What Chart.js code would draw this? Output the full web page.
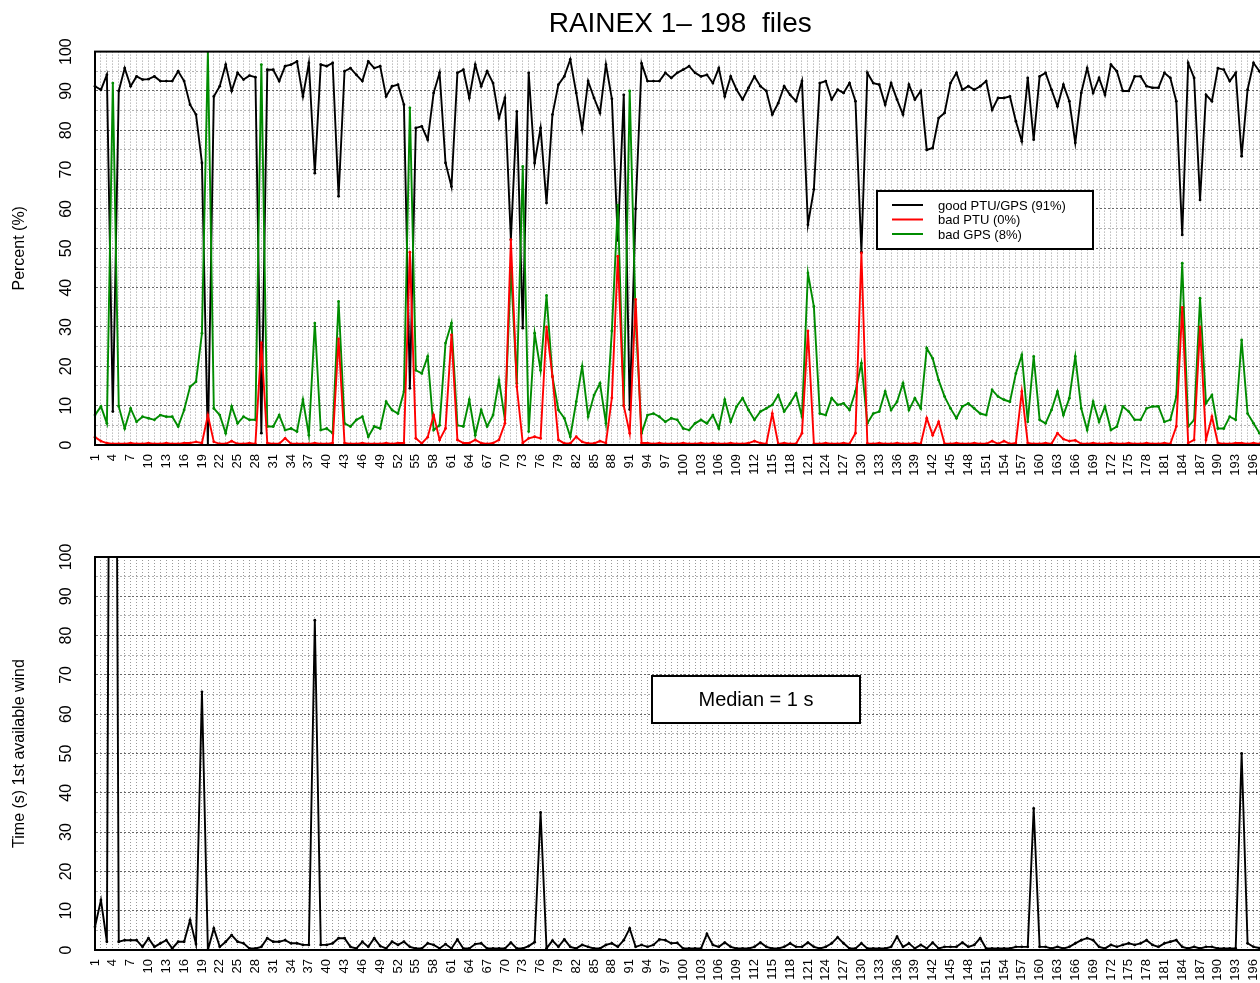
<!DOCTYPE html>
<html>
<head>
<meta charset="utf-8">
<title>RAINEX 1-198 files</title>
<script src="https://cdn.jsdelivr.net/npm/chart.js@4.4.1/dist/chart.umd.min.js"></script>
<style>
  html, body { margin: 0; padding: 0; background: #fff; overflow: hidden; }
  #topWrap { position: absolute; left: 0; top: 0; }
  #bottomWrap { position: absolute; left: 0; top: 500px; }
</style>
</head>
<body>
<div id="topWrap"><canvas id="topChart" width="1290" height="500"></canvas></div>
<div id="bottomWrap"><canvas id="bottomChart" width="1290" height="483"></canvas></div>
<script>
// file numbers 1..198
var fileNumbers = [];
for (var i = 1; i <= 198; i++) fileNumbers.push(String(i));

var goodPTUGPS = [
  91.2, 90.3, 94.1, 8.5, 90, 95.8, 91.2, 93.7, 92.9, 93,
  93.7, 92.5, 92.5, 92.5, 95, 92.5, 86.5, 84, 71.7, 0,
  88.6, 91.2, 96.7, 90, 94.6, 92.9, 93.9, 93.5, 3, 95.4,
  95.4, 92.5, 96.3, 96.7, 97.5, 88.6, 97.1, 69.1, 96.7, 96.3,
  97.1, 63.2, 95, 95.8, 94.1, 92.5, 97.5, 95.8, 96.3, 88.6,
  91.2, 91.6, 86.5, 14.4, 80.6, 81, 77.6, 89.5, 94.6, 71.7,
  65.7, 94.6, 95.4, 88.2, 96.7, 91.2, 95, 92, 83.1, 88.2,
  52.2, 84.8, 29.7, 94.6, 71.7, 80.6, 61.5, 84, 91.6, 93.7,
  98, 89.5, 80.2, 92.5, 88.2, 84.4, 96.7, 88, 52, 89,
  9, 60, 97, 92.5, 92.5, 92.5, 94.6, 93.3, 94.6, 95.4,
  96.3, 94.6, 93.7, 94.1, 92, 95.8, 88.6, 93.7, 90.3, 87.8,
  90.8, 93.7, 91.2, 90, 84, 86.9, 91.2, 89, 87.4, 92.5,
  56, 65, 92, 92.5, 87.8, 90.3, 89.5, 92, 87.4, 49,
  94.6, 92, 91.6, 86.5, 92, 87.8, 84, 91.6, 87.8, 90,
  75, 75.5, 83.1, 84.4, 92, 94.6, 90.3, 91.2, 90.3, 91.2,
  92.5, 85.2, 88.2, 88.2, 88.6, 82.3, 77.2, 93.3, 77.6, 93.7,
  94.6, 90.3, 86.1, 91.6, 87.4, 76.8, 89.5, 95.8, 89.5, 93.3,
  89, 96.7, 95, 90, 90, 93.7, 93.7, 91.2, 90.8, 90.8,
  94.6, 93.3, 87.4, 53.4, 97.1, 93.3, 62.3, 89, 87.4, 95.8,
  95.4, 92.5, 94.6, 73.4, 90.3, 97.1, 95, 93
];

var badPTU = [
  2, 1, 0.5, 0.3, 0.3, 0.3, 0.5, 0.3, 0.3, 0.5,
  0.3, 0.3, 0.5, 0.3, 0.3, 0.5, 0.5, 0.8, 0.5, 7.6,
  0.8, 0.3, 0.3, 1, 0.3, 0.3, 0.5, 0.3, 26, 0.5,
  0.3, 0.3, 1.7, 0.3, 0.3, 0.3, 0.3, 0.5, 0.3, 0.3,
  0.5, 27, 0.5, 0.3, 0.3, 0.5, 0.3, 0.3, 0.3, 0.5,
  0.3, 0.5, 0.5, 49, 1.7, 0.4, 2, 7.6, 1.3, 4.2,
  28, 1.3, 0.5, 0.5, 1.3, 0.5, 0.3, 0.5, 1.3, 5.5,
  52.2, 14.8, 0.5, 1.7, 2.1, 1.7, 30, 17.4, 1.3, 0.4,
  0.4, 2.1, 0.8, 0.4, 0.4, 1, 0.5, 12, 48, 10,
  3, 37, 0.5, 0.5, 0.3, 0.5, 0.3, 0.3, 0.3, 0.5,
  0.3, 0.3, 0.5, 0.3, 0.5, 0.3, 0.3, 0.5, 0.3, 0.3,
  0.5, 1, 0.5, 0.3, 8, 0.3, 0.5, 0.3, 0.3, 3,
  29, 0.3, 0.3, 0.5, 0.3, 0.3, 0.5, 0.3, 3, 48.8,
  0.4, 0.3, 0.5, 0.3, 0.3, 0.5, 0.3, 0.3, 0.5, 0.3,
  6.8, 2.5, 5.9, 0.3, 0.3, 0.5, 0.3, 0.3, 0.5, 0.3,
  0.3, 1, 0.3, 1, 0.3, 0.5, 13.6, 0.5, 0.3, 0.3,
  0.5, 0.3, 3, 1.5, 1, 1.2, 0.3, 0.3, 0.5, 0.3,
  0.3, 0.5, 0.3, 0.3, 0.5, 0.3, 0.3, 0.5, 0.3, 0.3,
  0.5, 0.3, 4.7, 35, 0.5, 1.3, 30, 1.3, 7.2, 0.5,
  0.3, 0.3, 0.5, 0.5, 0.3, 0.5, 0.3, 0.3
];

var badGPS = [
  7.6, 9.8, 5.5, 92, 9.8, 4.2, 9.3, 5.9, 7.2, 6.8,
  6.4, 7.6, 7.2, 7.2, 4.7, 8.9, 14.8, 16.1, 28.4, 100,
  9.3, 7.6, 3, 9.8, 5.5, 7.2, 6.4, 6.4, 96.7, 4.7,
  4.7, 7.6, 3.8, 4.2, 3.4, 11.5, 2.5, 31, 3.8, 4.2,
  3, 36.5, 5.5, 4.7, 6.4, 7.2, 2.1, 4.7, 4.2, 11,
  8.9, 8, 13.6, 85.7, 19, 18.2, 22.5, 3.8, 5, 25.9,
  31, 5, 4.7, 11.5, 2.5, 8.9, 4.7, 7.6, 16.5, 6.4,
  45, 15.7, 70.8, 3.4, 28.4, 19, 38, 17.4, 8.9, 6.8,
  2.1, 11, 20, 7.2, 12.7, 15.7, 5.5, 29, 61, 10,
  90, 32, 3, 7.6, 8, 7.2, 5.9, 6.8, 6.4, 4.2,
  3.8, 5.5, 6.4, 5.5, 7.6, 4.2, 11.5, 5.9, 9.8, 11.9,
  8.9, 6.4, 8.5, 9.3, 10.2, 12.7, 8.5, 10.6, 13.1, 7.2,
  43.7, 35.2, 8, 7.6, 11.9, 10.2, 10.6, 8.9, 13.6, 20.8,
  5.5, 8, 8.5, 13.6, 8.9, 11, 15.7, 8.9, 11.9, 9.3,
  24.6, 22, 16.5, 12.3, 9.3, 6.8, 9.8, 10.6, 9.3, 8,
  7.6, 14, 12.3, 11.5, 11, 18.2, 22.9, 5.9, 22.5, 6.4,
  5.5, 8.9, 13.6, 7.6, 11.9, 22.5, 9.3, 3.8, 11, 5.9,
  9.8, 3.8, 4.7, 9.8, 8.5, 6.4, 6.4, 9.3, 9.8, 9.8,
  5.9, 6.4, 12.3, 46.2, 4.7, 6.4, 37.3, 10.6, 12.7, 4.2,
  4.2, 7.2, 6.4, 26.7, 8, 5.5, 3, 4
];

// seconds until the first available wind
var firstWindTime = [
  5.9, 12.7, 2.1, 350, 2.1, 2.5, 2.5, 2.5, 0.8, 3,
  0.8, 1.7, 2.5, 0.4, 2.1, 2.1, 7.6, 1.5, 65.7, 0,
  5.5, 0.8, 2.1, 3.8, 2.1, 1.7, 0.4, 0.4, 0.8, 3,
  2.1, 2.1, 2.5, 1.7, 1.7, 1.3, 1.3, 83.9, 1.3, 1.3,
  1.7, 3, 3, 0.8, 0.4, 2.1, 0.8, 3, 1, 0.4,
  2.1, 1.3, 2.1, 0.8, 0.4, 0.4, 1.7, 1.3, 0.4, 1.5,
  0.4, 2.7, 0.4, 0.4, 1.5, 1.7, 0.4, 0.4, 0.4, 0.4,
  1.9, 0.4, 0.4, 1, 2, 35, 0.4, 2.4, 0.8, 2.7,
  0.8, 0.4, 1.3, 0.8, 0.4, 0.4, 1.3, 1.7, 0.8, 2.5,
  5.5, 0.8, 1.3, 0.8, 1.3, 2.7, 2.5, 1.7, 1.8, 0.4,
  0.4, 0.4, 0.4, 4.1, 1.3, 0.8, 1.9, 0.8, 0.4, 0.4,
  0.4, 0.8, 1.9, 0.8, 0.4, 0.4, 0.8, 1.7, 0.8, 0.8,
  1.9, 0.8, 0.4, 0.8, 1.7, 3.2, 1.7, 0.4, 0.4, 1.7,
  0.4, 0.4, 0.4, 0.4, 0.8, 3.4, 0.8, 1.7, 0.4, 1.3,
  0.4, 1.9, 0.4, 0.8, 0.8, 0.8, 1.9, 0.8, 1.3, 3,
  0.4, 0.4, 0.4, 0.4, 0.4, 0.8, 0.8, 0.8, 36, 0.8,
  0.8, 0.4, 0.8, 0.4, 0.8, 1.7, 2.5, 3, 2.5, 0.8,
  0.4, 1.3, 0.8, 1.3, 1.7, 1.3, 1.7, 2.5, 1.3, 0.8,
  1.7, 2.1, 2.5, 0.8, 0.4, 0.8, 0.4, 0.8, 0.8, 0.4,
  0.4, 0.4, 0.4, 50, 1.7, 0.8, 0.5, 0.5
];

var legendLabels = ["good PTU/GPS (91%)", "bad PTU (0%)", "bad GPS (8%)"];
var medianText = "Median = 1 s";

var FONT = "'Liberation Sans', Arial, Helvetica, sans-serif";

// plot frame (the top edge is not drawn by the axes)
var framePlugin = {
  id: "frame",
  afterDraw: function (chart) {
    var a = chart.chartArea, ctx = chart.ctx;
    ctx.save();
    ctx.strokeStyle = "#000";
    ctx.lineWidth = 2;
    ctx.strokeRect(a.left, a.top, a.right - a.left, a.bottom - a.top);
    ctx.restore();
  }
};

// y tick labels rotated like in the original plot
var rotatedYTicks = {
  id: "rotatedYTicks",
  afterDraw: function (chart) {
    var sc = chart.scales.y, ctx = chart.ctx;
    ctx.save();
    ctx.fillStyle = "#000";
    ctx.font = "16px " + FONT;
    ctx.textAlign = "center";
    ctx.textBaseline = "middle";
    sc.ticks.forEach(function (t) {
      if (t.value % 10 !== 0) return;
      ctx.save();
      ctx.translate(67, sc.getPixelForValue(t.value));
      ctx.rotate(-Math.PI / 2);
      ctx.fillText(String(t.value), 0, 0);
      ctx.restore();
    });
    ctx.restore();
  }
};

var boxLegend = {
  id: "boxLegend",
  afterDraw: function (chart) {
    if (!chart.options.plugins.boxLegend) return;
    var ctx = chart.ctx;
    ctx.save();
    ctx.fillStyle = "#fff";
    ctx.fillRect(877, 191, 216, 58);
    ctx.strokeStyle = "#000";
    ctx.lineWidth = 2;
    ctx.strokeRect(877, 191, 216, 58);
    ctx.font = "13px " + FONT;
    ctx.textBaseline = "middle";
    chart.data.datasets.forEach(function (ds, i) {
      var y = 205 + i * 14.5;
      ctx.strokeStyle = ds.borderColor;
      ctx.lineWidth = 2;
      ctx.beginPath();
      ctx.moveTo(892, y);
      ctx.lineTo(923, y);
      ctx.stroke();
      ctx.fillStyle = "#000";
      ctx.fillText(ds.label, 938, y + 1);
    });
    ctx.restore();
  }
};

var medianBox = {
  id: "medianBox",
  afterDraw: function (chart) {
    if (!chart.options.plugins.medianBox) return;
    var ctx = chart.ctx;
    ctx.save();
    ctx.fillStyle = "#fff";
    ctx.fillRect(652, 176, 208, 47);
    ctx.strokeStyle = "#000";
    ctx.lineWidth = 2;
    ctx.strokeRect(652, 176, 208, 47);
    ctx.fillStyle = "#000";
    ctx.font = "20px " + FONT;
    ctx.textAlign = "center";
    ctx.textBaseline = "middle";
    ctx.fillText(medianText, 756, 200);
    ctx.restore();
  }
};

function xScale(height) {
  return {
    type: "category",
    offset: false,
    afterFit: function (s) { s.height = height; },
    grid: { color: "#999", lineWidth: 1, drawTicks: false },
    border: { display: true, color: "#000", width: 2, dash: [1, 2] },
    ticks: {
      autoSkip: false,
      maxRotation: 90,
      minRotation: 90,
      padding: 9,
      color: "#000",
      font: { family: FONT, size: 13 },
      callback: function (val, index) {
        return index % 3 === 0 ? this.getLabelForValue(val) : "";
      }
    }
  };
}

function yScale(titleText) {
  return {
    min: 0,
    max: 100,
    afterFit: function (s) { s.width = 95; },
    grid: {
      drawTicks: false,
      lineWidth: 1,
      color: function (c) { return c.tick && c.tick.value % 10 === 0 ? "#666" : "#b0b0b0"; }
    },
    border: { display: true, color: "#000", width: 2, dash: [2, 2] },
    ticks: { stepSize: 5, display: false },
    title: {
      display: true,
      text: titleText,
      color: "#000",
      font: { family: FONT, size: 16 },
      padding: { top: 10, bottom: 0 }
    }
  };
}

function lineSet(label, values, color, order) {
  return {
    label: label,
    data: values,
    borderColor: color,
    backgroundColor: color,
    borderWidth: 1.9,
    pointRadius: 1.4,
    pointBorderWidth: 0,
    pointBackgroundColor: color,
    tension: 0,
    fill: false,
    order: order
  };
}

new Chart(document.getElementById("topChart").getContext("2d"), {
  type: "line",
  data: {
    labels: fileNumbers,
    datasets: [
      lineSet(legendLabels[0], goodPTUGPS, "#000000", 3),
      lineSet(legendLabels[1], badPTU, "#ff0000", 1),
      lineSet(legendLabels[2], badGPS, "#008c00", 2)
    ]
  },
  options: {
    responsive: false,
    animation: false,
    events: [],
    layout: { padding: { left: 0, right: 23, top: 0, bottom: 0 } },
    scales: { x: xScale(55), y: yScale("Percent (%)") },
    plugins: {
      legend: { display: false },
      tooltip: { enabled: false },
      title: {
        display: true,
        fullSize: false,
        text: "RAINEX 1\u2013 198  files",
        color: "#000",
        font: { family: FONT, size: 28, weight: "normal" },
        padding: { top: 7, bottom: 11 }
      },
      boxLegend: true
    }
  },
  plugins: [framePlugin, rotatedYTicks, boxLegend]
});

new Chart(document.getElementById("bottomChart").getContext("2d"), {
  type: "line",
  data: {
    labels: fileNumbers,
    datasets: [
      lineSet("1st available wind", firstWindTime, "#000000", 1)
    ]
  },
  options: {
    responsive: false,
    animation: false,
    events: [],
    layout: { padding: { left: 0, right: 23, top: 57, bottom: 0 } },
    scales: { x: xScale(33), y: yScale("Time (s) 1st available wind") },
    plugins: {
      legend: { display: false },
      tooltip: { enabled: false },
      medianBox: true
    }
  },
  plugins: [framePlugin, rotatedYTicks, medianBox]
});
</script>
</body>
</html>
